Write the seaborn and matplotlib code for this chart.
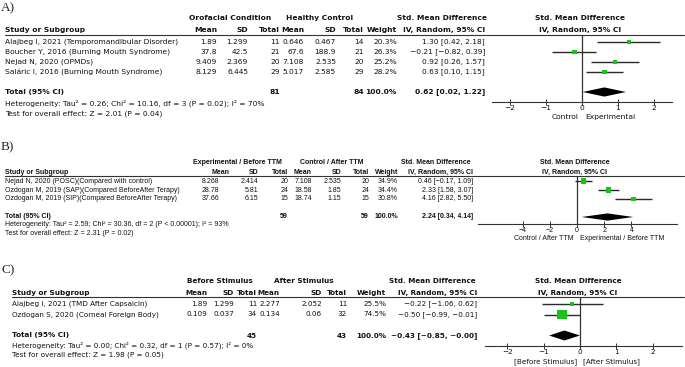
import numpy as np
import pandas as pd
import matplotlib
matplotlib.use("Agg")
import matplotlib.pyplot as plt
import seaborn as sns
from matplotlib.lines import Line2D

sns.set_theme(style="white")
plt.rcParams['font.family'] = ['DejaVu Sans']

# ------------------------------------------------------------------ data
# Panel A
a_studies = ["Alajbeg I, 2021 (Temporomandibular Disorder)",
             "Boucher Y, 2016 (Burning Mouth Syndrome)",
             "Nejad N, 2020 (OPMDs)",
             "Saláric I, 2016 (Burning Mouth Syndrome)"]
a_m1 = ["1.89", "37.8", "9.409", "8.129"]
a_sd1 = ["1.299", "42.5", "2.369", "6.445"]
a_n1 = [11, 21, 20, 29]
a_m2 = ["0.646", "67.6", "7.108", "5.017"]
a_sd2 = ["0.467", "188.9", "2.535", "2.585"]
a_n2 = [14, 21, 20, 29]
a_weight = [20.3, 26.3, 25.2, 28.2]
a_smd = [1.30, -0.21, 0.92, 0.63]
a_lo = [0.42, -0.82, 0.26, 0.10]
a_hi = [2.18, 0.39, 1.57, 1.15]
a_total = (0.62, 0.02, 1.22)
a_total_weight = "100.0%"
a_groups = ["Orofacial Condition", "Healthy Control"]
a_het = "Heterogeneity: Tau² = 0.26; Chi² = 10.16, df = 3 (P = 0.02); I² = 70%"
a_test = "Test for overall effect: Z = 2.01 (P = 0.04)"
a_ticks = [-2, -1, 0, 1, 2]
a_favours = ["Control", "Experimental"]

# Panel B
b_studies = ["Nejad N, 2020 (POSC)(Compared with control)",
             "Ozdogan M, 2019 (SAP)(Compared BeforeAfter Terapy)",
             "Ozdogan M, 2019 (SIP)(Compared BeforeAfter Terapy)"]
b_m1 = ["8.268", "28.78", "37.66"]
b_sd1 = ["2.414", "5.81", "6.15"]
b_n1 = [20, 24, 15]
b_m2 = ["7.108", "18.58", "18.74"]
b_sd2 = ["2.535", "1.85", "1.15"]
b_n2 = [20, 24, 15]
b_weight = [34.9, 34.4, 30.8]
b_smd = [0.46, 2.33, 4.16]
b_lo = [-0.17, 1.58, 2.82]
b_hi = [1.09, 3.07, 5.50]
b_total = (2.24, 0.34, 4.14)
b_total_weight = "100.0%"
b_groups = ["Experimental / Before TTM", "Control / After TTM"]
b_het = "Heterogeneity: Tau² = 2.59; Chi² = 30.36, df = 2 (P < 0.00001); I² = 93%"
b_test = "Test for overall effect: Z = 2.31 (P = 0.02)"
b_ticks = [-4, -2, 0, 2, 4]
b_favours = ["Control / After TTM", "Experimental / Before TTM"]

# Panel C
c_studies = ["Alajbeg I, 2021 (TMD After Capsaicin)",
             "Ozdogan S, 2020 (Corneal Foreign Body)"]
c_m1 = ["1.89", "0.109"]
c_sd1 = ["1.299", "0.037"]
c_n1 = [11, 34]
c_m2 = ["2.277", "0.134"]
c_sd2 = ["2.052", "0.06"]
c_n2 = [11, 32]
c_weight = [25.5, 74.5]
c_smd = [-0.22, -0.50]
c_lo = [-1.06, -0.99]
c_hi = [0.62, -0.01]
c_total = (-0.43, -0.85, -0.00)
c_total_weight = "100.0%"
c_groups = ["Before Stimulus", "After Stimulus"]
c_het = "Heterogeneity: Tau² = 0.00; Chi² = 0.32, df = 1 (P = 0.57); I² = 0%"
c_test = "Test for overall effect: Z = 1.98 (P = 0.05)"
c_ticks = [-2, -1, 0, 1, 2]
c_favours = ["[Before Stimulus]", "[After Stimulus]"]

# ------------------------------------------------------------------ layout (pixels)
W, H = 685, 367
GREEN = "#17c417"

panels = [
    dict(tag="A)", data=(a_studies, a_m1, a_sd1, a_n1, a_m2, a_sd2, a_n2, a_weight, a_smd, a_lo, a_hi,
                         a_total, a_total_weight, a_groups, a_het, a_test, a_ticks, a_favours),
         family="DejaVu Sans",
         label_y=8, h1_y=18, h2_y=30, line_y=35, row0=42, dy=10, het_y=103, test_y=114,
         x_left=5, fit_w=173, fscale=1.0,
         cols=[217, 248, 280, 304, 336, 364, 397, 485], mean1_hdr=217,
         grp=[230, 320], smd_c=442,
         x0=492, x1=672, zero=582, unit=36.0, axis_y=102, xlab_y=117, dh=4.6),
    dict(tag="B)", data=(b_studies, b_m1, b_sd1, b_n1, b_m2, b_sd2, b_n2, b_weight, b_smd, b_lo, b_hi,
                         b_total, b_total_weight, b_groups, b_het, b_test, b_ticks, b_favours),
         family="Liberation Sans",
         label_y=147, h1_y=163, h2_y=172, line_y=176, row0=181, dy=9, het_y=224, test_y=233,
         x_left=5, fit_w=173, fscale=1.0,
         cols=[219, 258, 288, 312, 341, 369, 398, 473], mean1_hdr=230,
         grp=[237, 332], smd_c=436,
         x0=478, x1=677, zero=577, unit=13.6, axis_y=224, xlab_y=239, dh=3.6),
    dict(tag="C)", data=(c_studies, c_m1, c_sd1, c_n1, c_m2, c_sd2, c_n2, c_weight, c_smd, c_lo, c_hi,
                         c_total, c_total_weight, c_groups, c_het, c_test, c_ticks, c_favours),
         family="DejaVu Sans",
         label_y=270, h1_y=281, h2_y=293, line_y=297, row0=304, dy=10.5, het_y=345, test_y=355,
         x_left=12, fit_w=155, fscale=0.95,
         cols=[207, 234, 257, 280, 322, 347, 386, 477], mean1_hdr=207,
         grp=[220, 304], smd_c=432,
         x0=485, x1=682, zero=580, unit=36.3, axis_y=346, xlab_y=362, dh=5.0),
]

fig = plt.figure(figsize=(W / 100, H / 100), dpi=100)
renderer = fig.canvas.get_renderer()


def fx(x):
    return x / W


def fy(y):
    return 1 - y / H


def fit_size(s, target, family):
    t = fig.text(0, 0, s, fontsize=10, family=family)
    w = t.get_window_extent(renderer).width
    t.remove()
    return 10 * target / w


def fmt_ci(v, lo, hi):
    s = f"{v:.2f} [{lo:.2f}, {hi:.2f}]"
    return s.replace("-", "\u2212")


for p in panels:
    (studies, m1, sd1, n1, m2, sd2, n2, weight, smd, lo, hi,
     total, total_w, groups, het, test, ticks, favours) = p["data"]
    fam = p["family"]
    longest = max(studies, key=len)
    fs = fit_size(longest, p["fit_w"], fam) * p["fscale"]
    c = p["cols"]

    def put(x, y, s, ha="right", bold=False):
        fig.text(fx(x), fy(y), s, ha=ha, va="center", fontsize=fs, family=fam,
                 fontweight="bold" if bold else "normal", color="#111111")

    # panel tag
    fig.text(fx(1), fy(p["label_y"]), p["tag"], ha="left", va="center",
             fontsize=9.5, family="Liberation Serif")

    # header row 1
    put(p["grp"][0], p["h1_y"], groups[0], ha="center", bold=True)
    put(p["grp"][1], p["h1_y"], groups[1], ha="center", bold=True)
    put(p["smd_c"], p["h1_y"], "Std. Mean Difference", ha="center", bold=True)
    put(p["zero"] - 2, p["h1_y"], "Std. Mean Difference", ha="center", bold=True)

    # header row 2
    put(p["x_left"], p["h2_y"], "Study or Subgroup", ha="left", bold=True)
    hdr = ["Mean", "SD", "Total", "Mean", "SD", "Total", "Weight", "IV, Random, 95% CI"]
    hx = [p["mean1_hdr"]] + c[1:]
    for x, s in zip(hx, hdr):
        put(x, p["h2_y"], s, bold=True)
    put(p["zero"] - 2, p["h2_y"], "IV, Random, 95% CI", ha="center", bold=True)

    # header rule
    fig.add_artist(Line2D([fx(p["x_left"]), fx(684)], [fy(p["line_y"])] * 2,
                          color="#333333", lw=0.8))

    # study rows
    for i, st in enumerate(studies):
        y = p["row0"] + i * p["dy"]
        put(p["x_left"], y, st, ha="left")
        vals = [m1[i], sd1[i], str(n1[i]), m2[i], sd2[i], str(n2[i]),
                f"{weight[i]:.1f}%", fmt_ci(smd[i], lo[i], hi[i])]
        for x, s in zip(c, vals):
            put(x, y, s)

    # total row
    n = len(studies)
    ty = p["row0"] + (n + 1) * p["dy"]
    put(p["x_left"], ty, "Total (95% CI)", ha="left", bold=True)
    put(c[2], ty, str(sum(n1)), bold=True)
    put(c[5], ty, str(sum(n2)), bold=True)
    put(c[6], ty, total_w, bold=True)
    put(c[7], ty, fmt_ci(*total), bold=True)
    put(p["x_left"], p["het_y"], het, ha="left")
    put(p["x_left"], p["test_y"], test, ha="left")

    # forest plot axes
    ax = fig.add_axes([fx(p["x0"]), fy(p["axis_y"]), (p["x1"] - p["x0"]) / W,
                       (p["axis_y"] - p["line_y"]) / H])
    ax.patch.set_alpha(0)
    ax.set_xlim((p["x0"] - p["zero"]) / p["unit"], (p["x1"] - p["zero"]) / p["unit"])
    ax.set_ylim((p["axis_y"] - p["row0"]) / p["dy"], (p["line_y"] - p["row0"]) / p["dy"])
    for sp in ["top", "right", "left"]:
        ax.spines[sp].set_visible(False)
    ax.spines["bottom"].set_color("#333333")
    ax.spines["bottom"].set_linewidth(0.8)
    ax.grid(False)
    ax.set_yticks([])
    ax.set_xticks(ticks)
    ax.set_xticklabels([str(t).replace("-", "\u2212") for t in ticks], family=fam)
    ax.tick_params(axis="x", direction="inout", length=4, width=0.7, pad=0,
                   labelsize=fs, colors="#333333", labelcolor="#111111", bottom=True)
    ax.axvline(0, color="#333333", lw=0.9)

    df = pd.DataFrame({"y": np.arange(n), "smd": smd, "lo": lo, "hi": hi, "w": weight})
    ax.hlines(df["y"], df["lo"], df["hi"], color="#2a2a2a", lw=1.0)
    side_pt = (0.12 * df["w"] + 1.0) * 72 / 100
    sns.scatterplot(data=df, x="smd", y="y", marker="s", s=(side_pt ** 2).tolist(),
                    color=GREEN, linewidth=0, legend=False, ax=ax, zorder=3)
    ax.set_xlabel("")
    ax.set_ylabel("")
    est, tlo, thi = total
    hh = p["dh"] / p["dy"]
    ax.fill([tlo, est, thi, est], [n + 1, n + 1 - hh, n + 1, n + 1 + hh],
            color="black", lw=0)

    put(p["zero"] - 3, p["xlab_y"], favours[0], ha="right")
    put(p["zero"] + 3, p["xlab_y"], favours[1], ha="left")

fig.savefig("out.png", dpi=100, facecolor="white")
